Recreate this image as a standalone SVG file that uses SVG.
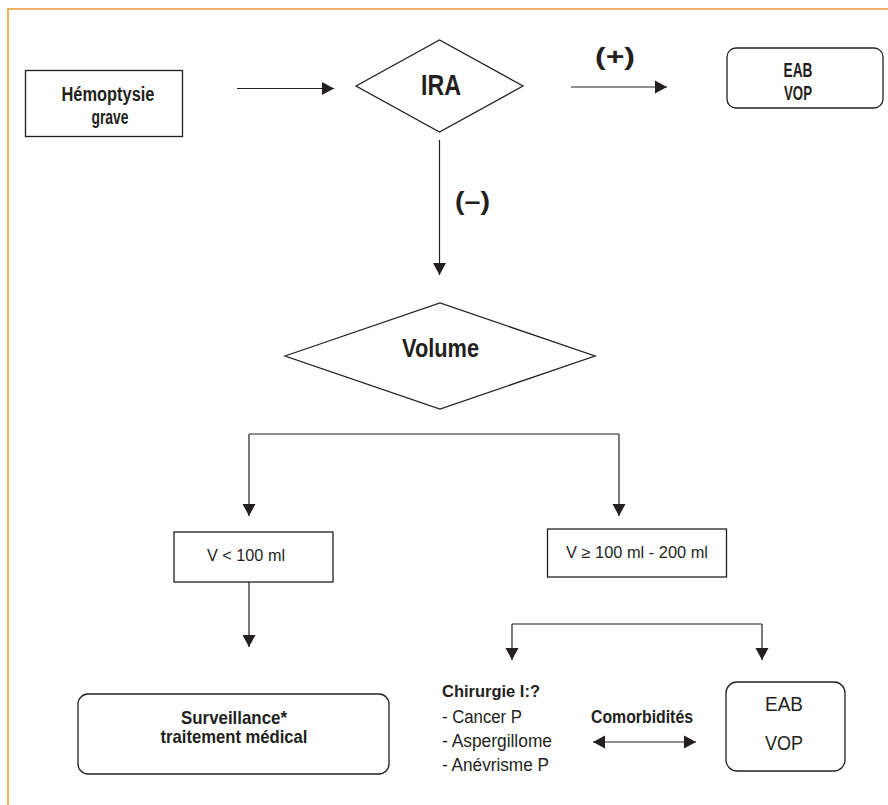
<svg xmlns="http://www.w3.org/2000/svg" width="888" height="805" viewBox="0 0 888 805">
<style>
.frame{fill:none;stroke:#F29B38;stroke-width:1.6}
.box{fill:#fff;stroke:#231f20;stroke-width:1.3}
.ln{fill:none;stroke:#231f20;stroke-width:1.2}
.t{font-family:"Liberation Sans",Arial,sans-serif;fill:#231f20;text-anchor:middle}
.s{text-anchor:start}
.b{font-weight:bold}
</style>
<defs>
<marker id="ah" markerUnits="userSpaceOnUse" markerWidth="13" markerHeight="14" viewBox="0 0 13 14" refX="12" refY="7" orient="auto-start-reverse">
<path d="M0,0.5 L12,7 L0,13.5 z" fill="#231f20"/>
</marker>
</defs>
<rect width="888" height="805" fill="#fff"/>
<path class="frame" d="M8,805 V9 H888"/>

<g id="connectors">
<path class="ln" d="M237,88.5 H334" marker-end="url(#ah)"/>
<path class="ln" d="M571,87 H667" marker-end="url(#ah)"/>
<path class="ln" d="M439.5,140 V275" marker-end="url(#ah)"/>
<path class="ln" d="M249,434 H619"/>
<path class="ln" d="M249,434 V516" marker-end="url(#ah)"/>
<path class="ln" d="M619,434 V516" marker-end="url(#ah)"/>
<path class="ln" d="M249,577 V647" marker-end="url(#ah)"/>
<path class="ln" d="M512,624 H762"/>
<path class="ln" d="M512,624 V660" marker-end="url(#ah)"/>
<path class="ln" d="M762,624 V660" marker-end="url(#ah)"/>
<path class="ln" d="M593,742 H696" marker-start="url(#ah)" marker-end="url(#ah)"/>
<text class="t b" x="615" y="65" font-size="24" textLength="40" lengthAdjust="spacingAndGlyphs">(+)</text>
<text class="t b" x="472.5" y="210" font-size="26" textLength="35" lengthAdjust="spacingAndGlyphs">(–)</text>
<text class="t b" x="642" y="723" font-size="18" textLength="102" lengthAdjust="spacingAndGlyphs">Comorbidités</text>
</g>

<g id="hemoptysie">
<rect class="box" x="25.5" y="70.5" width="157" height="66"/>
<text class="t b" x="108" y="101" font-size="20" textLength="93" lengthAdjust="spacingAndGlyphs">Hémoptysie</text>
<text class="t b" x="110" y="123.5" font-size="20" textLength="37" lengthAdjust="spacingAndGlyphs">grave</text>
</g>

<g id="ira">
<polygon class="box" points="356,86 439.5,40 523,86 439.5,132"/>
<text class="t b" x="441" y="95" font-size="30" textLength="40" lengthAdjust="spacingAndGlyphs">IRA</text>
</g>

<g id="eab-vop-top">
<rect class="box" x="727" y="48" width="156" height="60" rx="9"/>
<text class="t b" x="798" y="77" font-size="20" textLength="29" lengthAdjust="spacingAndGlyphs">EAB</text>
<text class="t b" x="798" y="100" font-size="20" textLength="28" lengthAdjust="spacingAndGlyphs">VOP</text>
</g>

<g id="volume">
<polygon class="box" points="285,356 440,303 595,356 440,409"/>
<text class="t b" x="440.5" y="357" font-size="25" textLength="77" lengthAdjust="spacingAndGlyphs">Volume</text>
</g>

<g id="v-lt-100">
<rect class="box" x="174" y="532" width="159" height="50"/>
<text class="t" x="246" y="561" font-size="16" textLength="78" lengthAdjust="spacingAndGlyphs">V &lt; 100 ml</text>
</g>

<g id="v-ge-100">
<rect class="box" x="547.5" y="529" width="179" height="48"/>
<text class="t" x="637" y="558" font-size="16" textLength="142" lengthAdjust="spacingAndGlyphs">V ≥ 100 ml - 200 ml</text>
</g>

<g id="surveillance">
<rect class="box" x="78" y="694" width="311" height="80" rx="10"/>
<text class="t b" x="234" y="724" font-size="19" textLength="106" lengthAdjust="spacingAndGlyphs">Surveillance*</text>
<text class="t b" x="234" y="743" font-size="19" textLength="147" lengthAdjust="spacingAndGlyphs">traitement médical</text>
</g>

<g id="chirurgie">
<text class="t s b" x="442" y="697" font-size="16" textLength="98" lengthAdjust="spacingAndGlyphs">Chirurgie I:?</text>
<text class="t s" x="442" y="723" font-size="18" textLength="80" lengthAdjust="spacingAndGlyphs">- Cancer P</text>
<text class="t s" x="442" y="747" font-size="18" textLength="110" lengthAdjust="spacingAndGlyphs">- Aspergillome</text>
<text class="t s" x="442" y="771" font-size="18" textLength="107" lengthAdjust="spacingAndGlyphs">- Anévrisme P</text>
</g>

<g id="eab-vop-bottom">
<rect class="box" x="726" y="682" width="119" height="89" rx="11"/>
<text class="t" x="784" y="711" font-size="20" textLength="38" lengthAdjust="spacingAndGlyphs">EAB</text>
<text class="t" x="784" y="750" font-size="20" textLength="38" lengthAdjust="spacingAndGlyphs">VOP</text>
</g>
</svg>
